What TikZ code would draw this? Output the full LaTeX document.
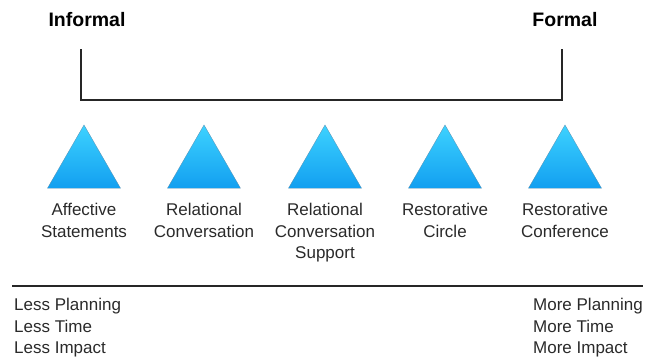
\documentclass[tikz,border=0pt]{standalone}
\usepackage{fontspec}
\setmainfont{Liberation Sans}
\usetikzlibrary{positioning, shapes.geometric}
\definecolor{triTop}{HTML}{3DD2FF}
\definecolor{triBottom}{HTML}{129FF0}
\definecolor{triEdge}{HTML}{5A8FB0}
\definecolor{ink}{HTML}{2A2A2A}

\begin{document}
\begin{tikzpicture}[x = 1pt, y = -1pt, node distance = 15pt,
    	tri/.style = {regular polygon, regular polygon sides = 3, minimum size = 84.3pt,
    		inner sep = 0pt, outer sep = 0pt, draw = triEdge, line width = 0.3pt,
    		top color = triTop, bottom color = triBottom},
    	label/.style = {align = center, inner sep = 0pt, text = ink,
    		font = \fontsize{17}{21.5}\selectfont},
    	side/.style = {align = left, inner sep = 0pt, text = ink, anchor = north west,
    		font = \fontsize{17}{21.5}\selectfont},
    	head/.style = {inner sep = 0pt, font = \fontsize{19.5}{22}\selectfont\bfseries},
    	bracket/.style = {line width = 1.8pt, draw = black!85}]
    	\useasboundingbox (0,0) rectangle (648,364);
    	\node[head] (informal) at (87,20) {Informal};
    	\node[head] (formal) at (565,20) {Formal};
    	\coordinate (bl) at (81,49);
    	\coordinate (br) at (562,49);
    	\draw[bracket] (bl) |- (562,100) -- (br);
    	\node[tri] (t1) at (84,167.1) {};
    	\node[tri] (t2) at (204,167.1) {};
    	\node[tri] (t3) at (325,167.1) {};
    	\node[tri] (t4) at (445,167.1) {};
    	\node[tri] (t5) at (565,167.1) {};
    	\node[label] (l1) [below = of t1] {Affective\\Statements};
    	\node[label] (l2) [below = of t2] {Relational\\Conversation};
    	\node[label] (l3) [below = of t3] {Relational\\Conversation\\Support};
    	\node[label] (l4) [below = of t4] {Restorative\\Circle};
    	\node[label] (l5) [below = of t5] {Restorative\\Conference};
    	\coordinate (rl) at (12,286);
    	\coordinate (rr) at (643,286);
    	\draw[line width = 1.6pt, draw = black!85] (rl) -- (rr);
    	\node[side] (less) at (14,298) {Less Planning\\Less Time\\Less Impact};
    	\node[side] (more) at (533,298) {More Planning\\More Time\\More Impact};
    \end{tikzpicture}
\end{document}
